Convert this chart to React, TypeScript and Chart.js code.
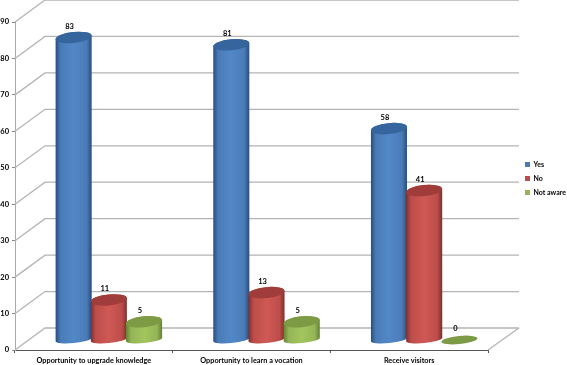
import React, { useEffect, useRef } from "react";
import { Chart, registerables } from "chart.js";

Chart.register(...registerables);

const categories = ["Opportunity to upgrade knowledge", "Opportunity to learn a vocation", "Receive visitors"];
const yesValues = [83, 81, 58];
const noValues = [11, 13, 41];
const notAwareValues = [5, 5, 0];
const seriesNames = ["Yes", "No", "Not aware"];
const seriesColors = ["#4a7bb7", "#bd4d4a", "#94b556"];
const edgeColors = ["#274d7e", "#7d2f2c", "#647f33"];
const lightColors = ["#5288c8", "#cf5955", "#a3c55e"];
const topColors = ["#35659c", "#a03c39", "#7d9a45"];

const FONT = 'Lato, "Liberation Sans", sans-serif';
const DX = 15;
const DY = -10;
const DEPTH_X = 30;
const DEPTH_Y = -22;
const TILT = -0.1;

const wallPlugin = {
  id: "wall",
  beforeDatasetsDraw(chart: any) {
    const { ctx, scales, chartArea } = chart;
    const y = scales.y;
    ctx.save();
    ctx.strokeStyle = "#b4b4b4";
    ctx.lineWidth = 1.3;
    y.ticks.forEach((t: any) => {
      const py = y.getPixelForValue(t.value);
      ctx.beginPath();
      ctx.moveTo(chartArea.left, py);
      ctx.lineTo(chartArea.left + DEPTH_X, py + DEPTH_Y);
      ctx.lineTo(chartArea.right + DEPTH_X + 1, py + DEPTH_Y);
      ctx.stroke();
    });
    const base = y.getPixelForValue(0);
    ctx.beginPath();
    ctx.moveTo(chartArea.right, base);
    ctx.lineTo(chartArea.right + DEPTH_X + 1, base + DEPTH_Y);
    ctx.stroke();
    ctx.restore();
  },
};

const cylinderPlugin = {
  id: "cylinder",
  beforeDatasetsDraw(chart: any) {
    const { ctx } = chart;
    chart.data.datasets.forEach((_: any, i: number) => {
      const meta = chart.getDatasetMeta(i);
      meta.data.forEach((el: any) => {
        const { x, y, base, width } = el.getProps(["x", "y", "base", "width"], true);
        const cx = x + DX;
        const top = y + DY;
        const bottom = base + DY;
        const rx = width / 2 + 0.5;
        const ry = 5.5;
        ctx.save();
        if (bottom - top > 1) {
          const g = ctx.createLinearGradient(cx - rx, 0, cx + rx, 0);
          g.addColorStop(0, edgeColors[i]);
          g.addColorStop(0.14, seriesColors[i]);
          g.addColorStop(0.5, lightColors[i]);
          g.addColorStop(0.86, seriesColors[i]);
          g.addColorStop(1, edgeColors[i]);
          ctx.fillStyle = g;
          ctx.beginPath();
          ctx.ellipse(cx, top, rx, ry, TILT, Math.PI, 0, false);
          ctx.lineTo(cx + rx, bottom);
          ctx.ellipse(cx, bottom, rx, 3.5, TILT, 0, Math.PI, false);
          ctx.closePath();
          ctx.fill();
        }
        ctx.fillStyle = topColors[i];
        ctx.beginPath();
        ctx.ellipse(cx, top, rx, bottom - top > 1 ? ry : 4, TILT, 0, Math.PI * 2);
        ctx.fill();
        ctx.restore();
      });
    });
  },
  beforeDatasetDraw() {
    return false;
  },
};

const labelPlugin = {
  id: "valueLabels",
  afterDatasetsDraw(chart: any) {
    const { ctx } = chart;
    ctx.save();
    ctx.font = `bold 7.5px ${FONT}`;
    ctx.fillStyle = "#000";
    ctx.textAlign = "center";
    ctx.textBaseline = "middle";
    chart.data.datasets.forEach((ds: any, i: number) => {
      chart.getDatasetMeta(i).data.forEach((el: any, j: number) => {
        ctx.fillText(String(ds.data[j]), el.x + DX - 4, el.y + DY - 11);
      });
    });
    ctx.restore();
  },
};

const legendPlugin = {
  id: "legendPlace",
  beforeLayout(chart: any) {
    const l = chart.legend;
    if (l && !l.__wrapped) {
      const orig = l.fit;
      l.fit = function () {
        orig.call(this);
        this.width = 79;
      };
      l.__wrapped = true;
    }
  },
  afterLayout(chart: any) {
    const l = chart.legend;
    if (l) {
      const w = l.right - l.left;
      l.left = 518;
      l.right = 518 + w;
      l.top -= 15;
      l.bottom -= 15;
    }
  },
};

export default function App() {
  const ref = useRef<HTMLCanvasElement>(null);
  useEffect(() => {
    document.body.style.margin = "0";
    const chart = new Chart(ref.current!, {
      type: "bar",
      data: {
        labels: categories,
        datasets: [yesValues, noValues, notAwareValues].map((data, i) => ({
          label: seriesNames[i],
          data,
          backgroundColor: seriesColors[i],
          barPercentage: 1,
          categoryPercentage: 0.67,
        })),
      },
      options: {
        responsive: false,
        animation: false,
        layout: { padding: { top: 22, left: 0, right: 0, bottom: 0 } },
        plugins: {
          tooltip: { enabled: false },
          legend: {
            position: "right",
            labels: {
              boxWidth: 5,
              boxHeight: 5,
              padding: 7,
              color: "#000",
              font: { size: 7, weight: "bold", family: FONT },
            },
          },
        },
        scales: {
          x: {
            afterFit(s: any) { s.height = 15; },
            grid: { drawOnChartArea: false, drawTicks: true, tickLength: 3, tickColor: "#555" },
            border: { display: true, color: "#555", width: 1 },
            ticks: { color: "#000", padding: 3, maxRotation: 0, font: { size: 7.3, weight: "bold", family: FONT } },
          },
          y: {
            min: 0,
            max: 90,
            afterFit(s: any) { s.width = 15; },
            grid: { drawOnChartArea: false, drawTicks: true, tickLength: 3, tickColor: "#888" },
            border: { display: true, color: "#aaa", width: 1 },
            ticks: { stepSize: 10, color: "#000", padding: 3, font: { size: 7.5, weight: "bold", family: FONT } },
          },
        },
      },
      plugins: [wallPlugin, cylinderPlugin, labelPlugin, legendPlugin],
    } as any);
    return () => chart.destroy();
  }, []);
  return <canvas ref={ref} width={567} height={365} style={{ display: "block" }} />;
}
